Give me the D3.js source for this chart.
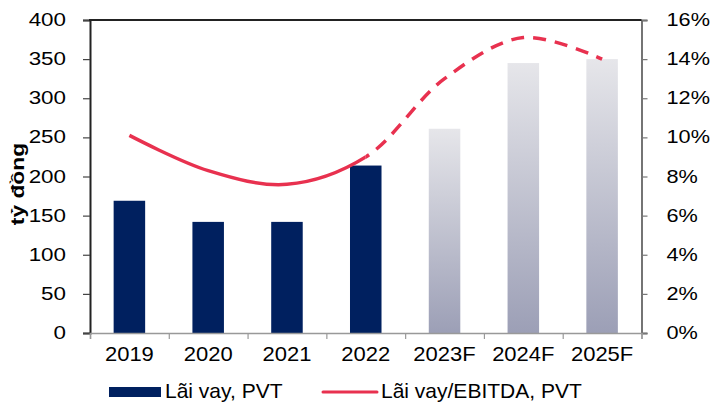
<!DOCTYPE html>
<html>
<head>
<meta charset="utf-8">
<script src="https://cdn.jsdelivr.net/npm/d3@7"></script>
<style>
  html, body { margin: 0; padding: 0; background: #fff; }
  svg { display: block; }
  text { font-family: "Liberation Sans", Arial, sans-serif; fill: #000; }
</style>
</head>
<body>
<svg id="chart" width="716" height="403"></svg>
<script>
const categories = ["2019", "2020", "2021", "2022", "2023F", "2024F", "2025F"];
const interestValues = [169, 142, 142, 214, 261, 345, 350];
const ratioValues = [10.1, 8.3, 7.6, 9.0, 13.0, 15.1, 14.0];
const isForecast = [false, false, false, false, true, true, true];
const leftTicks = [0, 50, 100, 150, 200, 250, 300, 350, 400];
const rightTicks = [0, 2, 4, 6, 8, 10, 12, 14, 16];
const yTitle = "tỷ đồng";
const legendBar = "Lãi vay, PVT";
const legendLine = "Lãi vay/EBITDA, PVT";

const svg = d3.select("#chart");
const L = 90, R = 641.5, T = 20, B = 333;

const x = d3.scaleBand().domain(categories).range([L, R]).paddingInner(0.6).paddingOuter(0.3);
const xEdge = d3.scaleLinear().domain([0, categories.length]).range([L, R]);
const yL = d3.scaleLinear().domain([0, 400]).range([B, T]);
const yR = d3.scaleLinear().domain([0, 16]).range([B, T]);

const defs = svg.append("defs");
const grad = defs.append("linearGradient").attr("id", "fcGrad")
  .attr("x1", 0).attr("y1", 0).attr("x2", 0).attr("y2", 1);
grad.append("stop").attr("offset", "0%").attr("stop-color", "#e6e6ea");
grad.append("stop").attr("offset", "100%").attr("stop-color", "#9c9fb6");

defs.append("clipPath").attr("id", "clipSolid").append("rect")
  .attr("x", 0).attr("y", 0).attr("width", x("2022") + x.bandwidth() / 2).attr("height", 403);
defs.append("clipPath").attr("id", "clipDash").append("rect")
  .attr("x", x("2022") + x.bandwidth() / 2).attr("y", 0).attr("width", 716).attr("height", 403);

// bars
svg.append("g").selectAll("rect").data(categories).join("rect")
  .attr("x", d => x(d))
  .attr("width", x.bandwidth())
  .attr("y", (d, i) => yL(interestValues[i]))
  .attr("height", (d, i) => B - yL(interestValues[i]))
  .attr("fill", (d, i) => isForecast[i] ? "url(#fcGrad)" : "#00205f");

// stretched text helper
function stretch(sel, sx) {
  sel.each(function () {
    const t = d3.select(this);
    const tx = +t.attr("x") || 0, ty = +t.attr("y") || 0;
    t.attr("x", null).attr("y", null).attr("transform", `translate(${tx},${ty}) scale(${sx},1)`);
  });
}

// left axis
const gL = svg.append("g").attr("transform", `translate(${L},0)`)
  .call(d3.axisLeft(yL).tickValues(leftTicks).tickSize(7).tickPadding(17));
gL.select(".domain").attr("stroke", "#222").attr("stroke-width", 2);
gL.selectAll(".tick line").attr("stroke", "#444").attr("stroke-width", 1.2);
gL.selectAll("text").attr("font-size", 17.5).attr("font-family", "Liberation Sans, Arial, sans-serif").attr("fill", "#000");
stretch(gL.selectAll("text"), 1.28);

// right axis
const gR = svg.append("g").attr("transform", `translate(${R},0)`)
  .call(d3.axisRight(yR).tickValues(rightTicks).tickSize(6).tickPadding(19).tickFormat(d => d + "%"));
gR.select(".domain").attr("stroke", "#666").attr("stroke-width", 1.8);
gR.selectAll(".tick line").attr("stroke", "#777").attr("stroke-width", 1.2);
gR.selectAll("text").attr("font-size", 17.5).attr("font-family", "Liberation Sans, Arial, sans-serif").attr("fill", "#000");
stretch(gR.selectAll("text"), 1.24);

// bottom axis: boundary ticks
const gBt = svg.append("g").attr("transform", `translate(0,${B})`)
  .call(d3.axisBottom(xEdge).tickValues(d3.range(categories.length + 1)).tickSize(6).tickFormat(""));
gBt.select(".domain").attr("stroke", "#999").attr("stroke-width", 1.5);
gBt.selectAll(".tick line").attr("stroke", "#999").attr("stroke-width", 1.2);

// bottom axis: labels
const gB = svg.append("g").attr("transform", `translate(0,${B})`)
  .call(d3.axisBottom(x).tickSize(0).tickPadding(14));
gB.select(".domain").remove();
gB.selectAll("text").attr("font-size", 20).attr("font-family", "Liberation Sans, Arial, sans-serif").attr("fill", "#000");
stretch(gB.selectAll("text"), 1.1);

// top border
svg.append("line").attr("x1", L - 1).attr("x2", R).attr("y1", T).attr("y2", T)
  .attr("stroke", "#222").attr("stroke-width", 2);

// line
const pts = categories.map((c, i) => [x(c) + x.bandwidth() / 2, yR(ratioValues[i])]);
const lineGen = d3.line().curve(d3.curveCatmullRom.alpha(0.5));
svg.append("path").attr("d", lineGen(pts)).attr("fill", "none")
  .attr("stroke", "#e8314f").attr("stroke-width", 3.5).attr("clip-path", "url(#clipSolid)");
svg.append("path").attr("d", lineGen(pts)).attr("fill", "none")
  .attr("stroke", "#e8314f").attr("stroke-width", 3.5)
  .attr("stroke-dasharray", "13,9").attr("clip-path", "url(#clipDash)");

// y title
svg.append("text").attr("transform", "translate(24,184) rotate(-90) scale(1.2,1)")
  .attr("text-anchor", "middle").attr("font-size", 19).attr("font-weight", "bold").text(yTitle);

// legend
const lg = svg.append("g");
lg.append("rect").attr("x", 109).attr("y", 387).attr("width", 52).attr("height", 10).attr("fill", "#00205f");
lg.append("text").attr("x", 165).attr("y", 398).attr("font-size", 21).text(legendBar);
lg.append("line").attr("x1", 323).attr("x2", 377).attr("y1", 392).attr("y2", 392)
  .attr("stroke", "#e8314f").attr("stroke-width", 3).attr("stroke-linecap", "round");
lg.append("text").attr("x", 381).attr("y", 398).attr("font-size", 21).text(legendLine);
</script>
</body>
</html>
